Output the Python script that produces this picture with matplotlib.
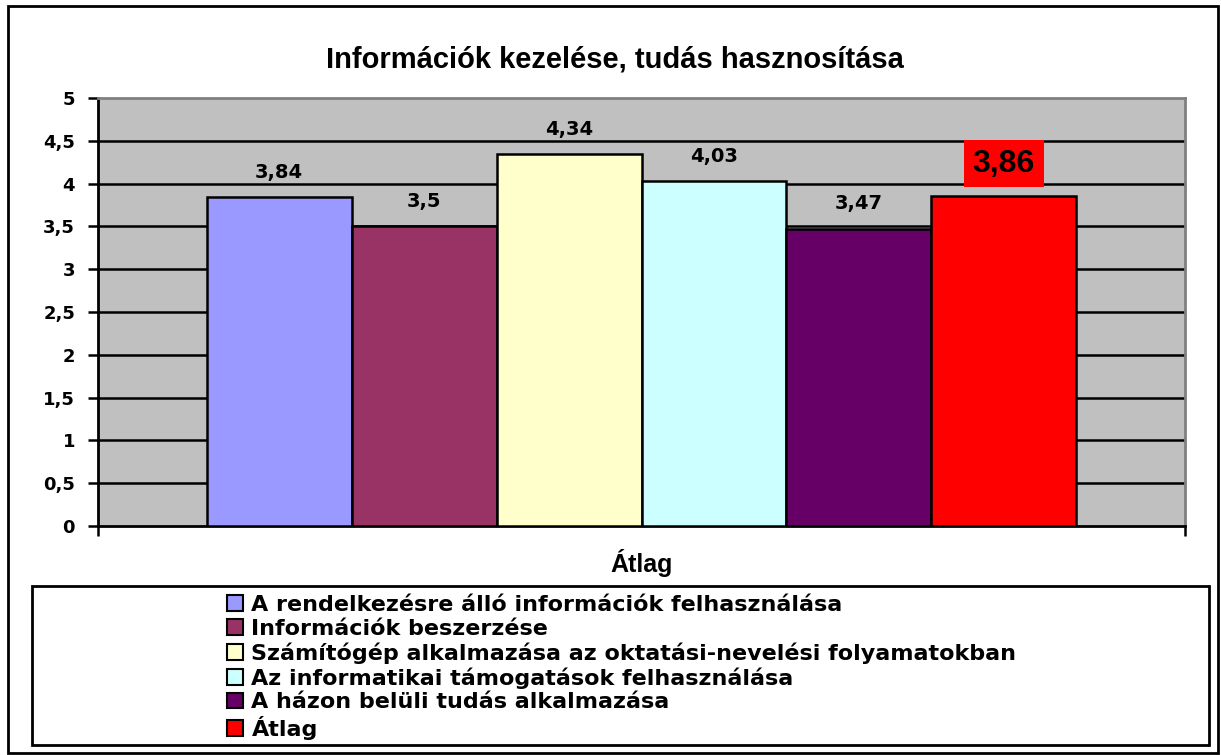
import matplotlib
matplotlib.use("Agg")
import matplotlib.pyplot as plt
from matplotlib.patches import Patch, Rectangle

plt.rcParams['font.family'] = ['DejaVu Sans']
plt.rcParams['font.weight'] = 'bold'

# Data
title = "Információk kezelése, tudás hasznosítása"
category = "Átlag"
series_names = [
    "A rendelkezésre álló információk felhasználása",
    "Információk beszerzése",
    "Számítógép alkalmazása az oktatási-nevelési folyamatokban",
    "Az informatikai támogatások felhasználása",
    "A házon belüli tudás alkalmazása",
    "Átlag",
]
values = [3.84, 3.5, 4.34, 4.03, 3.47, 3.86]
value_labels = ["3,84", "3,5", "4,34", "4,03", "3,47", "3,86"]
colors = ["#9999FF", "#993366", "#FFFFCC", "#CCFFFF", "#660066", "#FF0000"]
y_ticks = [0, 0.5, 1, 1.5, 2, 2.5, 3, 3.5, 4, 4.5, 5]
y_tick_labels = ["0", "0,5", "1", "1,5", "2", "2,5", "3", "3,5", "4", "4,5", "5"]

W, H = 1221, 755
fig = plt.figure(figsize=(W / 100, H / 100), dpi=100)

# outer chart border
fig.patches.append(Rectangle((8 / W, 2 / H), 1210 / W, 747 / H, transform=fig.transFigure,
                             fill=False, edgecolor='black', linewidth=2))

ax = fig.add_axes([98 / W, (H - 526) / H, 1087 / W, 428 / H])
ax.set_facecolor('#C0C0C0')

n = len(values)
group = 0.8
w = group / n
for i, (v, c, lab) in enumerate(zip(values, colors, value_labels)):
    x = -group / 2 + w * (i + 0.5)
    ax.bar(x, v, width=w, color=c, edgecolor='black', linewidth=1.8, zorder=3)
    if i == n - 1:
        # the average gets a big label on a red box
        ax.annotate(lab, (x, v), xytext=(0, 23), textcoords='offset points',
                    ha='center', va='center', fontsize=23, fontweight='bold',
                    family='Liberation Sans',
                    bbox=dict(boxstyle='square,pad=0.27', facecolor='#FF0000', edgecolor='none'),
                    zorder=4)
    else:
        ax.annotate(lab, (x, v), xytext=(0, 18), textcoords='offset points',
                    ha='center', va='center', fontsize=14, fontweight='bold', zorder=4)

ax.set_xlim(-0.5, 0.5)
ax.set_ylim(0, 5)
ax.set_yticks(y_ticks)
ax.set_yticklabels(y_tick_labels, fontsize=13, fontweight='bold')
ax.set_xticks([-0.5, 0.5])
ax.set_xticklabels(["", ""])
ax.tick_params(axis='both', direction='out', length=7.5, width=1.8, color='black', pad=9)
for yv in y_ticks[1:-1]:
    ax.axhline(yv, color='black', linewidth=1.8, zorder=1)

ax.spines['left'].set_linewidth(2)
ax.spines['bottom'].set_linewidth(2)
ax.spines['top'].set_color('#808080')
ax.spines['right'].set_color('#808080')
ax.spines['top'].set_linewidth(2)
ax.spines['right'].set_linewidth(2)

ax.set_xlabel(category, fontsize=18, fontweight='bold', family='Liberation Sans', va='center')
ax.xaxis.set_label_coords(0.5, -(563 - 526) / 428)

fig.text(615 / W, 1 - 59 / H, title, ha='center', va='center', fontsize=21,
         fontweight='bold', family='Liberation Sans')

# legend box
fig.patches.append(Rectangle((32 / W, (H - 745) / H), 1177 / W, 159 / H, transform=fig.transFigure,
                             facecolor='white', edgecolor='black', linewidth=2))
handles = [Patch(facecolor=c, edgecolor='black', linewidth=1.5) for c in colors]
fig.legend(handles, series_names, loc='upper left', bbox_to_anchor=(227 / W, 1 - 595 / H),
           frameon=False, prop={'weight': 'bold', 'size': 16},
           handlelength=0.7, handleheight=0.7, handletextpad=0.4, labelspacing=0.16,
           borderaxespad=0, borderpad=0)

fig.savefig("out.png", dpi=100)
